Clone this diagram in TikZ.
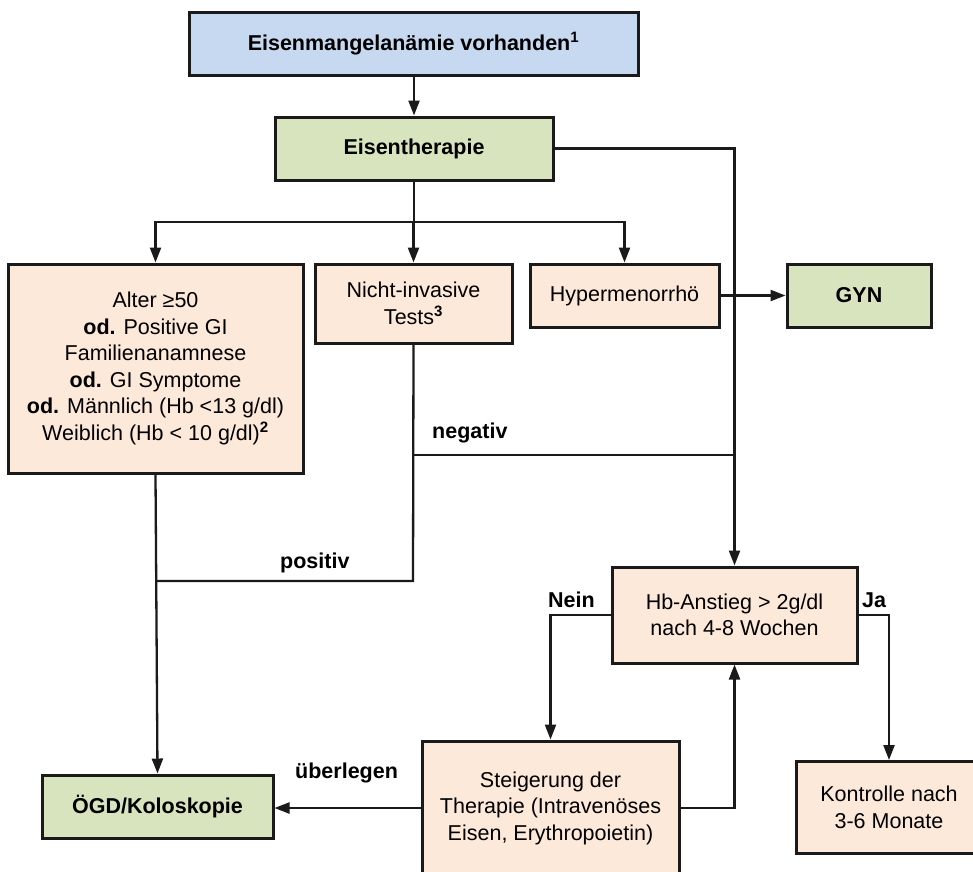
\documentclass[tikz,border=0pt]{standalone}
\usepackage{fontspec}
\setmainfont{Liberation Sans}
\usepackage{xcolor}
\usepackage{tikz}
\usetikzlibrary{arrows,arrows.meta,shapes,positioning}
\usetikzlibrary{calc}

\definecolor{blaubox}{HTML}{C6D9F0}
\definecolor{gruenbox}{HTML}{D7E4BD}
\definecolor{hautbox}{HTML}{FDE9D9}
\definecolor{strich}{HTML}{1A1A1A}

\begin{document}
\begin{tikzpicture}[x=1pt, y=-1pt,
	box/.style = {rectangle, draw=strich, line width=3pt, align=center, inner sep=0pt, font=\fontsize{21.5}{26.5}\selectfont},
	blau/.style = {box, fill=blaubox, font=\fontsize{21.5}{26.5}\selectfont\bfseries},
	gruen/.style = {box, fill=gruenbox, font=\fontsize{21.5}{26.5}\selectfont\bfseries},
	haut/.style = {box, fill=hautbox},
	linie/.style = {draw=strich, line width=2.3pt},
	pfeil/.style = {linie, -{Triangle[length=15pt,width=11pt]}},
	lab/.style = {anchor=base west, inner sep=0pt, font=\fontsize{21.5}{26.5}\selectfont\bfseries}]
						\useasboundingbox (0,0) rectangle (973,871);

						% Kaesten
						\node[blau, minimum width=449pt, minimum height=63pt] (anaemie) at (413.5,43.5) {Eisenmangelanämie vorhanden\textsuperscript{1}};
						\node[gruen, minimum width=278pt, minimum height=63pt] (therapie) at (414,148.5) {Eisentherapie};
						
						\node[haut, minimum width=295pt, minimum height=209pt] (risiko) at (155.5,368.5) {Alter ≥50\\\textbf{od.} Positive GI\\Familienanamnese\\\textbf{od.} GI Symptome\\\textbf{od.} Männlich (Hb <13 g/dl)\\Weiblich (Hb < 10 g/dl)\textsuperscript{\textbf{2}}};
						\node[haut, minimum width=197pt, minimum height=79pt] (tests) at (413.5,303.5) {Nicht-invasive\\Tests\textsuperscript{\textbf{3}}};
						\node[haut, minimum width=189pt, minimum height=63pt] (hyper) at (624.5,295.5) {Hypermenorrhö};
						\node[gruen, minimum width=144pt, minimum height=63pt] (gyn) at (859,295.5) {GYN};
						
						\node[haut, minimum width=245pt, minimum height=96pt] (anstieg) at (734.5,615) {Hb-Anstieg > 2g/dl\\nach 4-8 Wochen};
						\node[haut, minimum width=257pt, minimum height=134pt] (steigerung) at (550.5,808) {Steigerung der\\Therapie (Intravenöses\\Eisen, Erythropoietin)};
						\node[gruen, minimum width=231pt, minimum height=63pt] (ogd) at (157.5,806.5) {ÖGD/Koloskopie};
						\node[haut, minimum width=186pt, minimum height=92pt] (kontrolle) at (889,807.5) {Kontrolle nach\\3-6 Monate};

						% Verbindungen
						\coordinate (verteiler) at (414,222);
						\coordinate (testfuss) at (413,581);
						\coordinate (negabzw) at (413,455);
						\coordinate (negende) at (733,455);
						\coordinate (posende) at (156,581);
						
						\draw[pfeil] (anaemie.south -| therapie.north) -- (therapie.north);
						\draw[linie] (therapie.south) -- (verteiler);
						\draw[pfeil] (verteiler) -| (risiko.north);
						\draw[pfeil] (verteiler) -- (tests.north |- verteiler) -- (tests.north);
						\draw[pfeil] (verteiler) -| (hyper.north);
						\draw[pfeil] (therapie.east) -| (anstieg.north);
						\draw[pfeil] (hyper.east) -- (gyn.west);
						
						\draw[pfeil] (risiko.south) -- (ogd.north);
						\draw[linie] (tests.south) -- (testfuss) -- (posende);
						\draw[linie] (negabzw) -- (negende);
						
						\draw[pfeil] (anstieg.west) -| (steigerung.north);
						\draw[pfeil] (anstieg.east) -| (kontrolle.north);
						\draw[pfeil] (steigerung.east) -| (anstieg.south);
						\draw[pfeil] (steigerung.west) -- (ogd.east |- steigerung.west);

						% Beschriftungen
						\node[lab] (negativ) at (432,438) {negativ};
						\node[lab] (positiv) at (280,568) {positiv};
						\node[lab] (ueberlegen) at (295,778) {überlegen};
						\node[lab] (nein) at (548,607) {Nein};
						\node[lab] (ja) at (862,607) {Ja};
					\end{tikzpicture}
\end{document}
